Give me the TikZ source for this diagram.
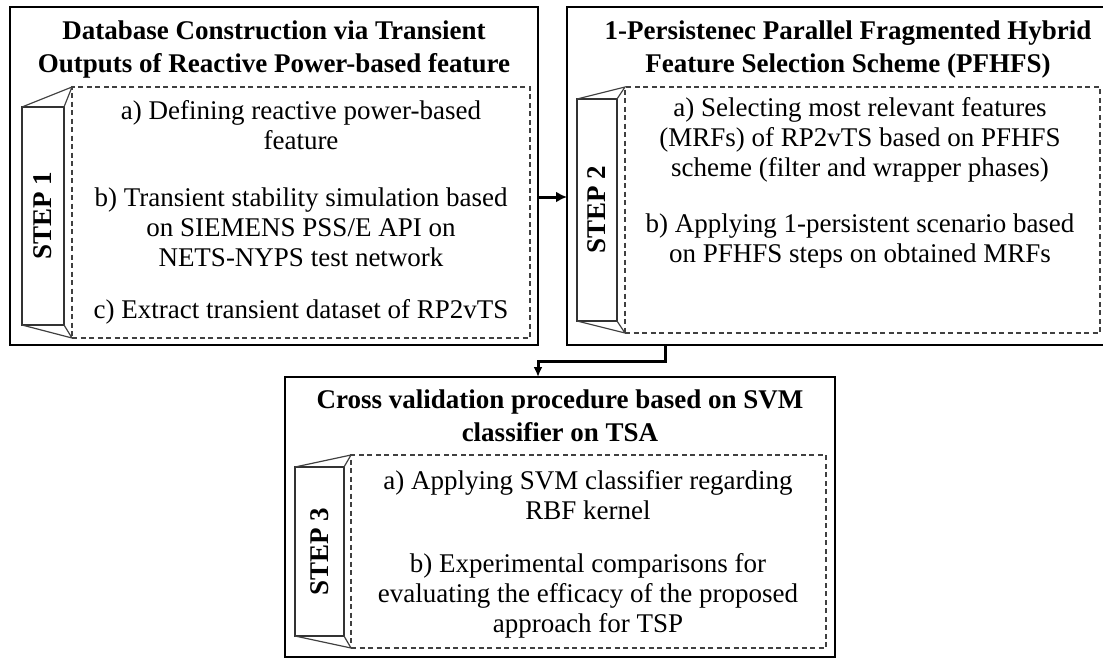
\documentclass[tikz,border=0pt]{standalone}
\usepackage{fontspec}
\setmainfont{Liberation Serif}
\usetikzlibrary{arrows.meta}

\begin{document}
\begin{tikzpicture}[x=1pt,y=-1pt,
  outerbox/.style={draw, line width=2.6pt, rectangle, inner sep=0pt, outer sep=0pt},
  dashbox/.style={draw=black!75, line width=1.5pt, dash pattern=on 5pt off 3.5pt, inner sep=0pt, outer sep=0pt},
  tabface/.style={draw=black!80, line width=1.6pt, inner sep=0pt, outer sep=0pt},
  tabedge/.style={draw=black!75, line width=1.2pt},
  steplabel/.style={font=\fontsize{27}{30}\selectfont\bfseries, rotate=90, inner sep=0pt},
  heading/.style={font=\fontsize{27}{33}\selectfont\bfseries, align=center, inner sep=0pt},
  item/.style={font=\fontsize{27}{30}\selectfont, align=center, inner sep=0pt},
  flow/.style={line width=3pt, -{Latex[length=11pt,width=11pt]}},
]
\useasboundingbox (0,0) rectangle (1103,659);
\clip (0,0) rectangle (1103,659);

% ---------- Step 1 ----------
\node[outerbox, minimum width=528pt, minimum height=338pt] (box1) at (274,176) {};
\node[heading] (t1) at (274,50) {Database Construction via Transient\\Outputs of Reactive Power-based feature};
\node[dashbox, minimum width=458pt, minimum height=251pt] (d1) at (301,212.5) {};
\node[tabface, minimum width=42pt, minimum height=218pt] (tab1) at (43,216) {};
\draw[tabedge] (tab1.north west) -- (d1.north west) -- (tab1.north east);
\draw[tabedge] (tab1.south west) -- (d1.south west) -- (tab1.south east);
\node[steplabel] (s1) at (tab1.center) {STEP 1};
\node[item] (i1a) at (301,125) {a) Defining reactive power-based\\feature};
\node[item] (i1b) at (301,227) {b) Transient stability simulation based\\on SIEMENS PSS/E API on\\NETS-NYPS test network};
\node[item] (i1c) at (301,312) {c) Extract transient dataset of RP2vTS};

% ---------- Step 2 ----------
\node[outerbox, minimum width=561pt, minimum height=338pt] (box2) at (847.5,176) {};
\node[heading] (t2) at (848,50) {1-Persistenec Parallel Fragmented Hybrid\\Feature Selection Scheme (PFHFS)};
\node[dashbox, minimum width=475pt, minimum height=246pt] (d2) at (862.5,210) {};
\node[tabface, minimum width=40pt, minimum height=222pt] (tab2) at (597,210) {};
\draw[tabedge] (tab2.north west) -- (d2.north west) -- (tab2.north east);
\draw[tabedge] (tab2.south west) -- (d2.south west) -- (tab2.south east);
\node[steplabel] (s2) at (tab2.center) {STEP 2};
\node[item] (i2a) at (860,140) {a) Selecting most relevant features\\(MRFs) of RP2vTS based on PFHFS\\scheme (filter and wrapper phases)};
\node[item] (i2b) at (860,241) {b) Applying 1-persistent scenario based\\on PFHFS steps on obtained MRFs};

% ---------- Step 3 ----------
\node[outerbox, minimum width=550pt, minimum height=280pt] (box3) at (560,517) {};
\node[heading] (t3) at (560,416) {Cross validation procedure based on SVM\\classifier on TSA};
\node[dashbox, minimum width=475pt, minimum height=193pt] (d3) at (588.5,551.5) {};
\node[tabface, minimum width=49pt, minimum height=169pt] (tab3) at (319.5,551.5) {};
\draw[tabedge] (tab3.north west) -- (d3.north west) -- (tab3.north east);
\draw[tabedge] (tab3.south west) -- (d3.south west) -- (tab3.south east);
\node[steplabel] (s3) at (tab3.center) {STEP 3};
\node[item] (i3a) at (588,495) {a) Applying SVM classifier regarding\\RBF kernel};
\node[item] (i3b) at (588,596) {b) Experimental comparisons for\\evaluating the efficacy of the proposed\\approach for TSP};

% ---------- Connectors ----------
\coordinate (lvl12) at (0,197);
\draw[flow] (box1.east |- lvl12) -- (box2.west |- lvl12);
\coordinate (bend) at (665,361);
\coordinate (drop) at (538,361);
\draw[flow, -{Latex[length=10pt,width=9pt]}] (box2.south -| bend) -- (bend) -- (drop) -- (box3.north -| drop);
\end{tikzpicture}
\end{document}
